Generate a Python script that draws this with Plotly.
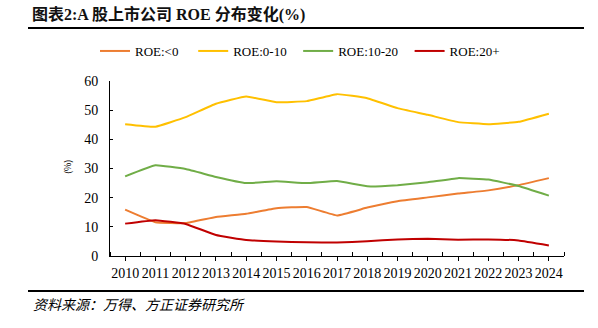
import plotly.graph_objects as go

# ROE distribution of A-share listed companies (% of companies)
years = [str(y) for y in range(2010, 2025)]
roe_neg = [15.9, 11.6, 11.3, 13.4, 14.5, 16.4, 16.8, 13.9, 16.6, 18.8, 20.1, 21.4, 22.5, 24.3, 26.7]
roe_0_10 = [45.2, 44.3, 47.6, 52.2, 54.7, 52.7, 53.1, 55.5, 54.1, 50.7, 48.4, 45.9, 45.2, 46.0, 48.8]
roe_10_20 = [27.3, 31.1, 29.8, 27.1, 25.0, 25.6, 25.0, 25.7, 23.9, 24.3, 25.3, 26.7, 26.2, 24.0, 20.7]
roe_20p = [11.1, 12.3, 11.0, 7.2, 5.5, 5.0, 4.7, 4.6, 5.1, 5.7, 5.9, 5.6, 5.7, 5.3, 3.6]

series_names = ["ROE:<0", "ROE:0-10", "ROE:10-20", "ROE:20+"]
series_values = [roe_neg, roe_0_10, roe_10_20, roe_20p]
series_colors = ["#ED7D31", "#FFC000", "#70AD47", "#C00000"]
legend_pad = [3, 2, 2, 0]  # trailing spaces widen the gap after each legend entry

W, H = 598, 328
L, R, T, B = 110, 564, 81, 256  # plot area in pixels


def px(x):
    return (x - L) / (R - L)


def py(y):
    return (B - y) / (B - T)


serif = "Liberation Serif, Times New Roman, serif"
cjk = "Noto Sans CJK SC"

fig = go.Figure()
xs = list(range(len(years)))
for name, vals, color, pad in zip(series_names, series_values, series_colors, legend_pad):
    fig.add_trace(go.Scatter(
        x=xs, y=vals, name=name + "\u00a0" * pad, mode="lines",
        line=dict(color=color, width=2, shape="spline", smoothing=0.3),
    ))

fig.update_layout(
    width=W, height=H,
    margin=dict(l=L, r=W - R, t=T, b=H - B, pad=0),
    paper_bgcolor="white", plot_bgcolor="white",
    showlegend=True,
    legend=dict(
        orientation="h", x=px(95), y=py(51), xanchor="left", yanchor="middle",
        font=dict(family=serif, size=13, color="#000"),
        bgcolor="rgba(0,0,0,0)", itemwidth=30, tracegroupgap=0,
    ),
    xaxis=dict(
        range=[-0.5, len(years) - 0.5],
        tickmode="array", tickvals=xs, ticktext=years,
        ticks="outside", ticklen=4, tickwidth=1, tickcolor="#000",
        minor=dict(tick0=-0.5, dtick=1, ticks="inside", ticklen=4, tickwidth=1, tickcolor="#000"),
        showline=True, linecolor="#000", linewidth=1,
        showgrid=False, zeroline=False,
        tickfont=dict(family=serif, size=14, color="#000"),
    ),
    yaxis=dict(
        range=[0, 60], tickvals=[0, 10, 20, 30, 40, 50, 60],
        ticks="inside", ticklen=3, tickwidth=1, tickcolor="#000",
        showline=True, linecolor="#000", linewidth=1,
        showgrid=False, zeroline=False,
        tickfont=dict(family=serif, size=14, color="#000"),
        ticklabelstandoff=8,
    ),
    shapes=[
        dict(type="line", xref="paper", yref="paper", x0=px(28), x1=px(584), y0=py(28), y1=py(28),
             line=dict(color="#000", width=2)),
        dict(type="line", xref="paper", yref="paper", x0=px(28), x1=px(584), y0=py(291), y1=py(291),
             line=dict(color="#000", width=2)),
    ],
    annotations=[
        dict(text="<b>图表2:A 股上市公司 ROE 分布变化(%)</b>", xref="paper", yref="paper",
             x=px(30), y=py(15), xanchor="left", yanchor="middle", showarrow=False,
             font=dict(family=serif + ", " + cjk, size=16, color="#111")),
        dict(text="<i>资料来源：万得、方正证券研究所</i>", xref="paper", yref="paper",
             x=px(31), y=py(304), xanchor="left", yanchor="middle", showarrow=False,
             font=dict(family=cjk, size=14, color="#000")),
        dict(text="(%)", xref="paper", yref="paper", textangle=-90,
             x=px(67), y=py(167), xanchor="center", yanchor="middle", showarrow=False,
             font=dict(family=cjk, size=9, color="#000")),
    ],
)

fig.write_html("out.html")
